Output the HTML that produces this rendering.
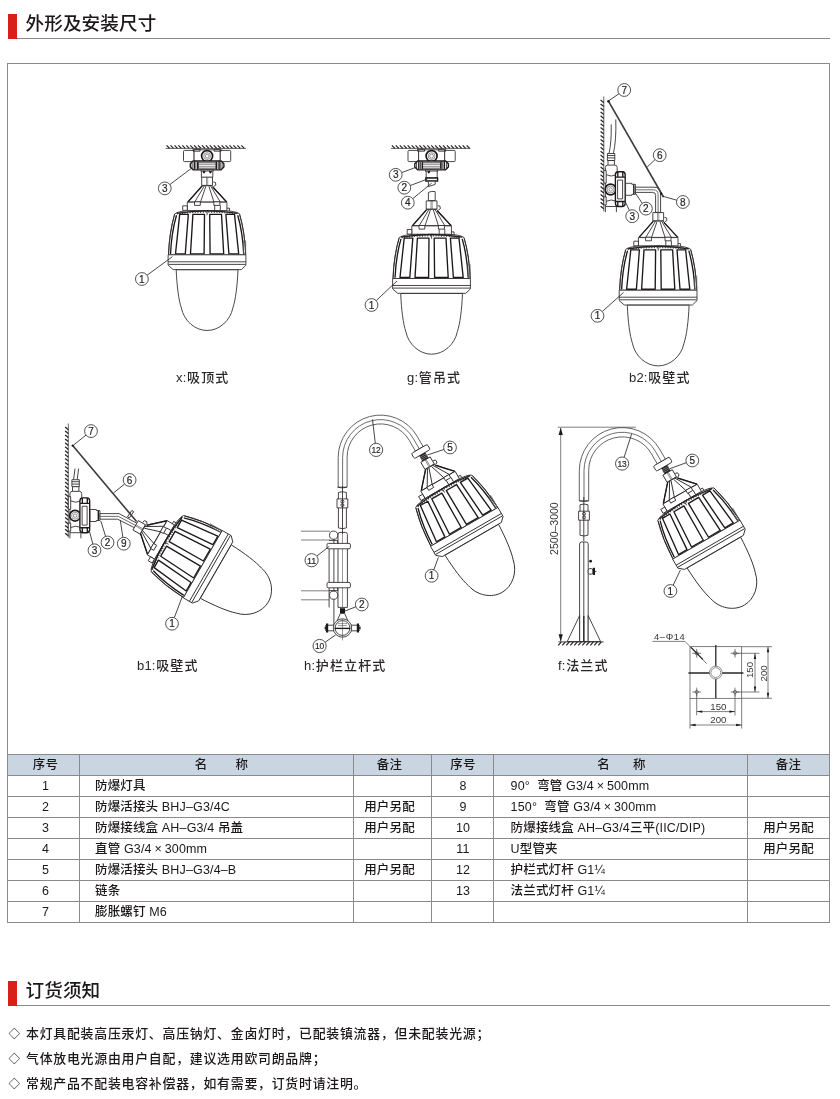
<!DOCTYPE html>
<html lang="zh-CN">
<head>
<meta charset="utf-8">
<title>外形及安装尺寸</title>
<style>
*{box-sizing:border-box;margin:0;padding:0}
html,body{width:840px;height:1099px;background:#fff;overflow:hidden}
body{position:relative;font-family:"Liberation Sans","Noto Sans CJK SC",sans-serif;color:#231f20}
.hd{position:absolute;left:8px;width:822px;height:25px;border-bottom:1px solid #8a8a8a}
.hd i{position:absolute;left:0;top:0;width:9px;height:25px;background:#d7201a}
.hd h2{position:absolute;left:17.5px;top:-3px;font-size:18.6px;font-weight:500;line-height:26px;letter-spacing:0.1px;color:#1c1819;white-space:nowrap}
#h1{top:14px}
#h2{top:981px}
.box{position:absolute;left:7px;top:63px;width:823px;height:692px;border:1px solid #8a8a8a;border-bottom:none}
.cap .la{letter-spacing:.2px;margin-right:.6px}
.cap{position:absolute;font-weight:500;font-size:13px;line-height:16px;white-space:nowrap;color:#2b2728;letter-spacing:1.1px}
table{position:absolute;left:7px;top:754px;width:822px;border-collapse:collapse;table-layout:fixed;font-size:12.5px;letter-spacing:.15px;font-weight:500;color:#1c1819}
td,th{border:1px solid #8a8a8a;height:21px;line-height:19px;padding:0;font-weight:500;white-space:nowrap;overflow:hidden;vertical-align:middle}
th{background:#c9d6e2;font-weight:500}
td.n,td.r{text-align:center}
tr>:nth-child(3){padding-right:6px}
tr>:nth-child(4){padding-left:1px}
tr>:nth-child(1){padding-left:4px}
td.t:nth-child(5){padding-left:16.6px}
td.t{padding-left:15px;text-align:left}
.x{padding:0 2.8px}
.notes{position:absolute;left:8px;top:1021px;font-size:12.9px;line-height:25px;letter-spacing:0.76px;color:#1c1819;font-weight:500;white-space:nowrap}
.notes b{display:inline-block;width:18px;font-weight:400;letter-spacing:0;font-size:11.6px;padding-left:.6px;vertical-align:top}
svg{position:absolute;left:0;top:0}
body>*{will-change:transform}
svg text{font-family:"Liberation Sans","Noto Sans CJK SC",sans-serif}

svg .l{fill:none;stroke:#2a2627;stroke-width:.85}
svg .k{fill:none;stroke:#1d191a;stroke-width:1.35;stroke-linejoin:round}
svg .kw{fill:#fff;stroke:#1d191a;stroke-width:1.35}
svg .t{fill:none;stroke:#444;stroke-width:.55}
svg .r{fill:none;stroke:#333;stroke-width:2;stroke-dasharray:1 1.6}
svg .g{fill:none;stroke:#666;stroke-width:.7}
svg .w{fill:#fff;stroke:#2a2627;stroke-width:.85;stroke-linejoin:round}
svg .h{fill:none;stroke:#2a2627;stroke-width:1.25}
svg .hl{fill:none;stroke:#555;stroke-width:.9}
svg .c{fill:#fff;stroke:#2a2627;stroke-width:.8}
svg .c2{fill:none;stroke:#3e3a3b;stroke-width:1.6}
svg .f{fill:#1d191a;stroke:none}
svg .d{fill:none;stroke:#4a4647;stroke-width:.7}
svg .tw{fill:#fff;stroke:#4a4647;stroke-width:.85;stroke-linejoin:round}
svg .tl{fill:none;stroke:#4a4647;stroke-width:.8}
svg .k2{fill:none;stroke:#2a2627;stroke-width:1.3}
svg .gw{fill:#fff;stroke:#666;stroke-width:.7}
svg .th{fill:none;stroke:#bbb;stroke-width:.5}
svg text{fill:#231f20;stroke:#231f20;stroke-width:.2}
svg text.dt{fill:#3a3637;stroke:none}
</style>
</head>
<body>
<div class="hd" id="h1"><i></i><h2>外形及安装尺寸</h2></div>
<div class="box"></div>
<svg width="840" height="1099" viewBox="0 0 840 1099">
<g id="d-x">
<path class="hl" d="M165.6,148.4 H246"/><path class="h" d="M166.6,145.4 l3.0,3.0 M170.5,145.4 l3.0,3.0 M174.5,145.4 l3.0,3.0 M178.4,145.4 l3.0,3.0 M182.3,145.4 l3.0,3.0 M186.3,145.4 l3.0,3.0 M190.2,145.4 l3.0,3.0 M194.1,145.4 l3.0,3.0 M198.0,145.4 l3.0,3.0 M202.0,145.4 l3.0,3.0 M205.9,145.4 l3.0,3.0 M209.8,145.4 l3.0,3.0 M213.8,145.4 l3.0,3.0 M217.7,145.4 l3.0,3.0 M221.6,145.4 l3.0,3.0 M225.6,145.4 l3.0,3.0 M229.5,145.4 l3.0,3.0 M233.4,145.4 l3.0,3.0 M237.3,145.4 l3.0,3.0 M241.3,145.4 l3.0,3.0"/>
<g transform="translate(207.1 148.4)">
<path class="w" d="M-22.6,2 h9.6 v11.2 h-9.6 a1,1 0 0 1 -1,-1 v-9.2 a1,1 0 0 1 1,-1 Z M13,2 h9.6 a1,1 0 0 1 1,1 v9.2 a1,1 0 0 1 -1,1 h-9.6 Z"/>
<path class="w" d="M-13,1.4 H13 V13.4 H-13 Z"/>
<path class="l" d="M-14,0.8 h7 v2 h-7 Z M7,0.8 h7 v2 h-7 Z"/>
<circle class="kw" cx="0" cy="7.7" r="5.5" style="stroke-width:1.7"/>
<circle class="g" cx="0" cy="7.7" r="3.4"/>
<circle class="g" cx="0" cy="7.7" r="1.9"/>
<path class="kw" d="M-16.8,15.4 L-14,12.6 H14 L16.8,15.4 V18.6 L14,21.4 H-14 L-16.8,18.6 Z"/>
<path class="w" d="M-9,14.4 H9 V19.8 H-9 Z"/>
<path class="t" d="M-9,16.2 H9 M-9,18 H9"/>
<path class="k" d="M-12.8,12.8 V21.2 M12.8,12.8 V21.2 M-9.4,13 V21 M9.4,13 V21"/>
<path class="l" d="M-15,14 V20 M15,14 V20 M-11.2,13 V21 M11.2,13 V21"/>
<path class="w" d="M-6,21.4 H6 V23 H-6 Z"/>
</g>
<path class="w" d="M201.4,171 H212.8 V177.4 H201.4 Z"/>
<path class="k" d="M203,171.2 l1,1.6 l1,-1.6 M209.4,171.2 l1,1.6 l1,-1.6"/>
<g transform="translate(207.1 210.2) rotate(0) scale(1.0)">
<path class="w" d="M-5.4,-33 H5.4 V-24.8 H-5.4 Z"/>
<path class="t" d="M-0.6,-33 V-25 M0.6,-33 V-25"/>
<path class="l" d="M6.2,-28.3 l2.2,0.6 l0.3,2.6 l-2,1.2"/>
<path class="w" d="M-4.8,-24.5 L-19.2,-8.2 H19.6 L5,-24.5 Z"/>
<path class="k" d="M-4.8,-24.5 L-19.2,-8.2 M5.6,-23.2 L19.6,-8.2"/>
<path class="l" d="M-2.6,-24.5 L-12.4,-8.2 M-1.2,-24 L-6.6,-8.2 M1.8,-24 L6.8,-8.2 M3.4,-24.5 L13.2,-8.2"/>
<path class="w" d="M-19.8,-8 H19.8 V0.5 H-19.8 Z"/>
<path class="w" d="M-12.6,-8.4 h5.8 v3.6 h-5.8 Z M6.8,-8.4 h6 v3.6 h-6 Z"/>
<path class="w" d="M-24.4,-4.4 h4.6 v4.6 h-4.6 Z"/>
<path class="l" d="M7.6,-4.8 v4.8 M13.2,-4.8 v4.8 M19.8,-2 h2.6 v3"/>
<path class="w" d="M-32.4,3.6 Q-28,0.6 -16,0.4 H16 Q28,0.6 32.4,3.6 Q37.6,22 38.6,44.6 H-38.6 Q-37.6,22 -32.4,3.6 Z"/>
<path class="k" d="M-30.5,3.2 Q-16,0.6 0,0.6 Q16,0.6 30.5,3.2"/>
<path class="r" d="M-30,3.4 Q-16,1.6 0,1.6 Q16,1.6 30,3.4"/>
<path class="k" d="M-27.4,4.2 L-31.6,43.6 H-21.8 L-18.8,4.2 Z"/>
<path class="k" d="M-14.2,4.2 L-16.6,43.6 H-3.0 L-2.6,4.2 Z"/>
<path class="k" d="M2.6,4.2 L3.0,43.6 H16.6 L14.4,4.2 Z"/>
<path class="k" d="M18.8,4.2 L21.8,43.6 H31.6 L27.4,4.2 Z"/>
<path class="k" d="M-30.6,5 Q-35.6,22 -36.6,43.8 M30.6,5 Q35.6,22 36.6,43.8"/>
<path class="l" d="M-32.6,4.4 Q-37.8,22 -38.6,44 M32.6,4.4 Q37.8,22 38.6,44"/>
<path class="l" d="M0,0.6 V5"/>
<path class="g" d="M36.4,30.6 h2.2 v12.6 h-2.2 Z"/>
<path class="w" d="M-39,44.6 H38.8 V55 L34.2,59.4 H-33.9 L-39,55 Z"/>
<path class="l" d="M-39,51.6 H38.8 M-38.6,54.2 H38.4"/>
<path class="w" d="M-30.9,59.6 C-30.2,76 -28.4,90 -25.8,97.6 C-23.2,110.6 -12,120.3 0,120.3 C12,120.3 23.2,110.6 25.8,97.6 C28.4,90 30.2,76 30.9,59.6 Z"/>
</g>
<path class="l" d="M147.1,275.2 L172.4,256.7"/>
<circle class="c" cx="141.9" cy="279" r="6.4"/><text x="141.9" y="282.6" text-anchor="middle" font-size="10.0">1</text>
<path class="l" d="M169.9,184.5 L191,168.6"/>
<circle class="c" cx="164.8" cy="188.4" r="6.4"/><text x="164.8" y="192.0" text-anchor="middle" font-size="10.0">3</text>
</g>
<g id="d-g">
<path class="hl" d="M390.9,148.4 H470.4"/><path class="h" d="M391.9,145.4 l3.0,3.0 M395.8,145.4 l3.0,3.0 M399.8,145.4 l3.0,3.0 M403.7,145.4 l3.0,3.0 M407.6,145.4 l3.0,3.0 M411.6,145.4 l3.0,3.0 M415.5,145.4 l3.0,3.0 M419.4,145.4 l3.0,3.0 M423.3,145.4 l3.0,3.0 M427.3,145.4 l3.0,3.0 M431.2,145.4 l3.0,3.0 M435.1,145.4 l3.0,3.0 M439.1,145.4 l3.0,3.0 M443.0,145.4 l3.0,3.0 M446.9,145.4 l3.0,3.0 M450.9,145.4 l3.0,3.0 M454.8,145.4 l3.0,3.0 M458.7,145.4 l3.0,3.0 M462.6,145.4 l3.0,3.0 M466.6,145.4 l3.0,3.0"/>
<g transform="translate(431.6 148.4)">
<path class="w" d="M-22.6,2 h9.6 v11.2 h-9.6 a1,1 0 0 1 -1,-1 v-9.2 a1,1 0 0 1 1,-1 Z M13,2 h9.6 a1,1 0 0 1 1,1 v9.2 a1,1 0 0 1 -1,1 h-9.6 Z"/>
<path class="w" d="M-13,1.4 H13 V13.4 H-13 Z"/>
<path class="l" d="M-14,0.8 h7 v2 h-7 Z M7,0.8 h7 v2 h-7 Z"/>
<circle class="kw" cx="0" cy="7.7" r="5.5" style="stroke-width:1.7"/>
<circle class="g" cx="0" cy="7.7" r="3.4"/>
<circle class="g" cx="0" cy="7.7" r="1.9"/>
<path class="kw" d="M-16.8,15.4 L-14,12.6 H14 L16.8,15.4 V18.6 L14,21.4 H-14 L-16.8,18.6 Z"/>
<path class="w" d="M-9,14.4 H9 V19.8 H-9 Z"/>
<path class="t" d="M-9,16.2 H9 M-9,18 H9"/>
<path class="k" d="M-12.8,12.8 V21.2 M12.8,12.8 V21.2 M-9.4,13 V21 M9.4,13 V21"/>
<path class="l" d="M-15,14 V20 M15,14 V20 M-11.2,13 V21 M11.2,13 V21"/>
<path class="w" d="M-6,21.4 H6 V23 H-6 Z"/>
</g>
<path class="w" d="M426.2,171 H437.2 V178 H426.2 Z"/>
<path class="k" d="M427.8,171.2 l1,1.6 l1,-1.6"/>
<path class="kw" d="M425.8,178 h11.8 v3 h-11.8 Z"/>
<path class="w" d="M428.4,181.2 V186.6 L435.2,184.4 V181.2 Z"/>
<path class="w" d="M428.4,200.6 V192.4 q3.4,-1.6 6.8,-0.8 V200.6 Z"/>
<g transform="translate(431.6 233.9) rotate(0) scale(1.0)">
<path class="w" d="M-5.4,-33 H5.4 V-24.8 H-5.4 Z"/>
<path class="t" d="M-0.6,-33 V-25 M0.6,-33 V-25"/>
<path class="l" d="M6.2,-28.3 l2.2,0.6 l0.3,2.6 l-2,1.2"/>
<path class="w" d="M-4.8,-24.5 L-19.2,-8.2 H19.6 L5,-24.5 Z"/>
<path class="k" d="M-4.8,-24.5 L-19.2,-8.2 M5.6,-23.2 L19.6,-8.2"/>
<path class="l" d="M-2.6,-24.5 L-12.4,-8.2 M-1.2,-24 L-6.6,-8.2 M1.8,-24 L6.8,-8.2 M3.4,-24.5 L13.2,-8.2"/>
<path class="w" d="M-19.8,-8 H19.8 V0.5 H-19.8 Z"/>
<path class="w" d="M-12.6,-8.4 h5.8 v3.6 h-5.8 Z M6.8,-8.4 h6 v3.6 h-6 Z"/>
<path class="w" d="M-24.4,-4.4 h4.6 v4.6 h-4.6 Z"/>
<path class="l" d="M7.6,-4.8 v4.8 M13.2,-4.8 v4.8 M19.8,-2 h2.6 v3"/>
<path class="w" d="M-32.4,3.6 Q-28,0.6 -16,0.4 H16 Q28,0.6 32.4,3.6 Q37.6,22 38.6,44.6 H-38.6 Q-37.6,22 -32.4,3.6 Z"/>
<path class="k" d="M-30.5,3.2 Q-16,0.6 0,0.6 Q16,0.6 30.5,3.2"/>
<path class="r" d="M-30,3.4 Q-16,1.6 0,1.6 Q16,1.6 30,3.4"/>
<path class="k" d="M-27.4,4.2 L-31.6,43.6 H-21.8 L-18.8,4.2 Z"/>
<path class="k" d="M-14.2,4.2 L-16.6,43.6 H-3.0 L-2.6,4.2 Z"/>
<path class="k" d="M2.6,4.2 L3.0,43.6 H16.6 L14.4,4.2 Z"/>
<path class="k" d="M18.8,4.2 L21.8,43.6 H31.6 L27.4,4.2 Z"/>
<path class="k" d="M-30.6,5 Q-35.6,22 -36.6,43.8 M30.6,5 Q35.6,22 36.6,43.8"/>
<path class="l" d="M-32.6,4.4 Q-37.8,22 -38.6,44 M32.6,4.4 Q37.8,22 38.6,44"/>
<path class="l" d="M0,0.6 V5"/>
<path class="g" d="M36.4,30.6 h2.2 v12.6 h-2.2 Z"/>
<path class="w" d="M-39,44.6 H38.8 V55 L34.2,59.4 H-33.9 L-39,55 Z"/>
<path class="l" d="M-39,51.6 H38.8 M-38.6,54.2 H38.4"/>
<path class="w" d="M-30.9,59.6 C-30.2,76 -28.4,90 -25.8,97.6 C-23.2,110.6 -12,120.3 0,120.3 C12,120.3 23.2,110.6 25.8,97.6 C28.4,90 30.2,76 30.9,59.6 Z"/>
</g>
<path class="l" d="M401.7,172.6 L416,167.3"/>
<circle class="c" cx="395.7" cy="174.8" r="6.4"/><text x="395.7" y="178.4" text-anchor="middle" font-size="10.0">3</text>
<path class="l" d="M410.3,185.5 L427.3,179.1"/>
<circle class="c" cx="404.3" cy="187.7" r="6.4"/><text x="404.3" y="191.29999999999998" text-anchor="middle" font-size="10.0">2</text>
<path class="l" d="M412.8,198.6 L431.6,183.2"/>
<circle class="c" cx="407.8" cy="202.7" r="6.4"/><text x="407.8" y="206.29999999999998" text-anchor="middle" font-size="10.0">4</text>
<path class="l" d="M376.2,300.6 L397,281"/>
<circle class="c" cx="371.5" cy="305" r="6.4"/><text x="371.5" y="308.6" text-anchor="middle" font-size="10.0">1</text>
</g>
<g id="d-b2">
<path class="hl" d="M603.8,96.5 V211.4"/><path class="h" d="M600.6,100.1 l3.2,2.6 M600.6,104.0 l3.2,2.6 M600.6,108.0 l3.2,2.6 M600.6,111.9 l3.2,2.6 M600.6,115.8 l3.2,2.6 M600.6,119.8 l3.2,2.6 M600.6,123.7 l3.2,2.6 M600.6,127.6 l3.2,2.6 M600.6,131.5 l3.2,2.6 M600.6,135.5 l3.2,2.6 M600.6,139.4 l3.2,2.6 M600.6,143.3 l3.2,2.6 M600.6,147.3 l3.2,2.6 M600.6,151.2 l3.2,2.6 M600.6,155.1 l3.2,2.6 M600.6,159.1 l3.2,2.6 M600.6,163.0 l3.2,2.6 M600.6,166.9 l3.2,2.6 M600.6,170.8 l3.2,2.6 M600.6,174.8 l3.2,2.6 M600.6,178.7 l3.2,2.6 M600.6,182.6 l3.2,2.6 M600.6,186.6 l3.2,2.6 M600.6,190.5 l3.2,2.6 M600.6,194.4 l3.2,2.6 M600.6,198.4 l3.2,2.6 M600.6,202.3 l3.2,2.6 M600.6,206.2 l3.2,2.6"/>
<path class="l" d="M611.2,124.4 Q611.6,142 609,153.6 M615.8,119.4 Q616.4,140 613.4,153.6"/>
<g transform="translate(603.8 189.5)">
<path class="w" d="M3.6,-36 h7.4 v7 h-7.4 Z"/>
<path class="l" d="M3.6,-34 h7.4 M3.6,-31.6 h7.4"/>
<path class="w" d="M4.2,-29 h6.4 v5 h-6.4 Z"/>
<path class="w" d="M1.6,-22 q0,-2.4 2.4,-2.4 h7 q2.4,0 2.4,2.4 V17 H1.6 Z"/>
<path class="l" d="M1.6,-15 q5.8,3 11.8,0 M1.6,12 q5.8,-3 11.8,0"/>
<path class="w" d="M0,-19 h2.4 v12.6 h-2.4 Z M0,7.4 h2.4 v8 h-2.4 Z"/>
<path class="l" d="M1.6,17 V22.6 M12.6,17 V22.6"/>
<circle class="kw" cx="6.8" cy="0" r="5.4" style="stroke-width:1.7"/>
<circle class="g" cx="6.8" cy="0" r="3.5"/>
<circle class="g" cx="6.8" cy="0" r="1.7"/>
<path class="kw" d="M11.6,-14.4 q0,-3.4 2.6,-3.4 h4.6 q2.6,0 2.6,3.4 V13.6 q0,3.4 -2.6,3.4 h-4.6 q-2.6,0 -2.6,-3.4 Z"/>
<path class="w" d="M13.8,-9.4 h5 v18.8 h-5 Z"/>
<path class="k" d="M11.8,-12.4 h9.4 M11.8,12 h9.4 M14,-17.6 v5 M19,-17.6 v5 M14,12 v5 M19,12 v5"/>
<path class="w" d="M21.8,-6.2 h6.2 v1 h3.6 v10 h-3.6 v1 h-6.2 Z"/>
<path class="k" d="M30,-5 v9.8"/>
</g>
<path class="w" d="M635.4,187.2 H654 Q660.6,187.2 660.6,194 V212.4 H655.6 V195.4 Q655.6,192.4 652.6,192.4 H635.4 Z"/>
<path class="tl" d="M635.4,189.8 H653.4 Q658.1,189.8 658.1,194.6 V212.4"/>
<g transform="translate(658.2 245.6) rotate(0) scale(1.0)">
<path class="w" d="M-5.4,-33 H5.4 V-24.8 H-5.4 Z"/>
<path class="t" d="M-0.6,-33 V-25 M0.6,-33 V-25"/>
<path class="l" d="M6.2,-28.3 l2.2,0.6 l0.3,2.6 l-2,1.2"/>
<path class="w" d="M-4.8,-24.5 L-19.2,-8.2 H19.6 L5,-24.5 Z"/>
<path class="k" d="M-4.8,-24.5 L-19.2,-8.2 M5.6,-23.2 L19.6,-8.2"/>
<path class="l" d="M-2.6,-24.5 L-12.4,-8.2 M-1.2,-24 L-6.6,-8.2 M1.8,-24 L6.8,-8.2 M3.4,-24.5 L13.2,-8.2"/>
<path class="w" d="M-19.8,-8 H19.8 V0.5 H-19.8 Z"/>
<path class="w" d="M-12.6,-8.4 h5.8 v3.6 h-5.8 Z M6.8,-8.4 h6 v3.6 h-6 Z"/>
<path class="w" d="M-24.4,-4.4 h4.6 v4.6 h-4.6 Z"/>
<path class="l" d="M7.6,-4.8 v4.8 M13.2,-4.8 v4.8 M19.8,-2 h2.6 v3"/>
<path class="w" d="M-32.4,3.6 Q-28,0.6 -16,0.4 H16 Q28,0.6 32.4,3.6 Q37.6,22 38.6,44.6 H-38.6 Q-37.6,22 -32.4,3.6 Z"/>
<path class="k" d="M-30.5,3.2 Q-16,0.6 0,0.6 Q16,0.6 30.5,3.2"/>
<path class="r" d="M-30,3.4 Q-16,1.6 0,1.6 Q16,1.6 30,3.4"/>
<path class="k" d="M-27.4,4.2 L-31.6,43.6 H-21.8 L-18.8,4.2 Z"/>
<path class="k" d="M-14.2,4.2 L-16.6,43.6 H-3.0 L-2.6,4.2 Z"/>
<path class="k" d="M2.6,4.2 L3.0,43.6 H16.6 L14.4,4.2 Z"/>
<path class="k" d="M18.8,4.2 L21.8,43.6 H31.6 L27.4,4.2 Z"/>
<path class="k" d="M-30.6,5 Q-35.6,22 -36.6,43.8 M30.6,5 Q35.6,22 36.6,43.8"/>
<path class="l" d="M-32.6,4.4 Q-37.8,22 -38.6,44 M32.6,4.4 Q37.8,22 38.6,44"/>
<path class="l" d="M0,0.6 V5"/>
<path class="g" d="M36.4,30.6 h2.2 v12.6 h-2.2 Z"/>
<path class="w" d="M-39,44.6 H38.8 V55 L34.2,59.4 H-33.9 L-39,55 Z"/>
<path class="l" d="M-39,51.6 H38.8 M-38.6,54.2 H38.4"/>
<path class="w" d="M-30.9,59.6 C-30.2,76 -28.4,90 -25.8,97.6 C-23.2,110.6 -12,120.3 0,120.3 C12,120.3 23.2,110.6 25.8,97.6 C28.4,90 30.2,76 30.9,59.6 Z"/>
</g>
<path class="c2" d="M608.6,101.4 L662.9,196"/>
<circle class="f" cx="608.4" cy="101.2" r="1.2"/><circle class="f" cx="661.2" cy="193.4" r="1.1"/><circle class="f" cx="663.2" cy="196.4" r="0.9"/>
<path class="l" d="M619.0,93.7 L609,100.6"/>
<circle class="c" cx="624.2" cy="90" r="6.4"/><text x="624.2" y="93.6" text-anchor="middle" font-size="10.0">7</text>
<path class="l" d="M655.0,159.6 L647.2,167"/>
<circle class="c" cx="659.7" cy="155.2" r="6.4"/><text x="659.7" y="158.79999999999998" text-anchor="middle" font-size="10.0">6</text>
<path class="l" d="M676.7,200.2 L663.4,196.4"/>
<circle class="c" cx="682.9" cy="202" r="6.4"/><text x="682.9" y="205.6" text-anchor="middle" font-size="10.0">8</text>
<path class="l" d="M642.3,203.3 L635,192.6"/>
<circle class="c" cx="645.9" cy="208.6" r="6.4"/><text x="645.9" y="212.2" text-anchor="middle" font-size="10.0">2</text>
<path class="l" d="M629.4,210.4 L625,201.2"/>
<circle class="c" cx="632.2" cy="216.2" r="6.4"/><text x="632.2" y="219.79999999999998" text-anchor="middle" font-size="10.0">3</text>
<path class="l" d="M602.3,311.5 L623.5,292.5"/>
<circle class="c" cx="597.5" cy="315.8" r="6.4"/><text x="597.5" y="319.40000000000003" text-anchor="middle" font-size="10.0">1</text>
</g>
<g id="d-b1">
<path class="hl" d="M68.3,423.5 V537.5"/><path class="h" d="M65.1,427.1 l3.2,2.6 M65.1,431.0 l3.2,2.6 M65.1,435.0 l3.2,2.6 M65.1,438.9 l3.2,2.6 M65.1,442.8 l3.2,2.6 M65.1,446.8 l3.2,2.6 M65.1,450.7 l3.2,2.6 M65.1,454.6 l3.2,2.6 M65.1,458.5 l3.2,2.6 M65.1,462.5 l3.2,2.6 M65.1,466.4 l3.2,2.6 M65.1,470.3 l3.2,2.6 M65.1,474.3 l3.2,2.6 M65.1,478.2 l3.2,2.6 M65.1,482.1 l3.2,2.6 M65.1,486.1 l3.2,2.6 M65.1,490.0 l3.2,2.6 M65.1,493.9 l3.2,2.6 M65.1,497.8 l3.2,2.6 M65.1,501.8 l3.2,2.6 M65.1,505.7 l3.2,2.6 M65.1,509.6 l3.2,2.6 M65.1,513.6 l3.2,2.6 M65.1,517.5 l3.2,2.6 M65.1,521.4 l3.2,2.6 M65.1,525.4 l3.2,2.6 M65.1,529.3 l3.2,2.6 M65.1,533.2 l3.2,2.6"/>
<path class="l" d="M75,468.6 L73.6,479.6 M78.6,468.6 L77.2,479.6"/>
<g transform="translate(68.3 515.7)">
<path class="w" d="M3.6,-36 h7.4 v7 h-7.4 Z"/>
<path class="l" d="M3.6,-34 h7.4 M3.6,-31.6 h7.4"/>
<path class="w" d="M4.2,-29 h6.4 v5 h-6.4 Z"/>
<path class="w" d="M1.6,-22 q0,-2.4 2.4,-2.4 h7 q2.4,0 2.4,2.4 V17 H1.6 Z"/>
<path class="l" d="M1.6,-15 q5.8,3 11.8,0 M1.6,12 q5.8,-3 11.8,0"/>
<path class="w" d="M0,-19 h2.4 v12.6 h-2.4 Z M0,7.4 h2.4 v8 h-2.4 Z"/>
<path class="l" d="M1.6,17 V22.6 M12.6,17 V22.6"/>
<circle class="kw" cx="6.8" cy="0" r="5.4" style="stroke-width:1.7"/>
<circle class="g" cx="6.8" cy="0" r="3.5"/>
<circle class="g" cx="6.8" cy="0" r="1.7"/>
<path class="kw" d="M11.6,-14.4 q0,-3.4 2.6,-3.4 h4.6 q2.6,0 2.6,3.4 V13.6 q0,3.4 -2.6,3.4 h-4.6 q-2.6,0 -2.6,-3.4 Z"/>
<path class="w" d="M13.8,-9.4 h5 v18.8 h-5 Z"/>
<path class="k" d="M11.8,-12.4 h9.4 M11.8,12 h9.4 M14,-17.6 v5 M19,-17.6 v5 M14,12 v5 M19,12 v5"/>
<path class="w" d="M21.8,-6.2 h6.2 v1 h3.6 v10 h-3.6 v1 h-6.2 Z"/>
<path class="k" d="M30,-5 v9.8"/>
</g>
<path class="w" d="M100,513.6 H119 L138.6,524.2 L136.2,528.6 L117.6,519.2 H100 Z"/>
<path class="tl" d="M100,516.4 H118.4 L137.4,526.4"/>
<path class="w" transform="translate(130.6 514.2) rotate(35)" d="M-1.1,-3.8 h2.2 v7.6 h-2.2 Z"/>
<g transform="translate(164.2 541.8) rotate(-60) scale(1.0)">
<path class="w" d="M-5.4,-33 H5.4 V-24.8 H-5.4 Z"/>
<path class="t" d="M-0.6,-33 V-25 M0.6,-33 V-25"/>
<path class="l" d="M6.2,-28.3 l2.2,0.6 l0.3,2.6 l-2,1.2"/>
<path class="w" d="M-4.8,-24.5 L-19.2,-8.2 H19.6 L5,-24.5 Z"/>
<path class="k" d="M-4.8,-24.5 L-19.2,-8.2 M5.6,-23.2 L19.6,-8.2"/>
<path class="l" d="M-2.6,-24.5 L-12.4,-8.2 M-1.2,-24 L-6.6,-8.2 M1.8,-24 L6.8,-8.2 M3.4,-24.5 L13.2,-8.2"/>
<path class="w" d="M-19.8,-8 H19.8 V0.5 H-19.8 Z"/>
<path class="w" d="M-12.6,-8.4 h5.8 v3.6 h-5.8 Z M6.8,-8.4 h6 v3.6 h-6 Z"/>
<path class="w" d="M-24.4,-4.4 h4.6 v4.6 h-4.6 Z"/>
<path class="l" d="M7.6,-4.8 v4.8 M13.2,-4.8 v4.8 M19.8,-2 h2.6 v3"/>
<path class="w" d="M-32.4,3.6 Q-28,0.6 -16,0.4 H16 Q28,0.6 32.4,3.6 Q37.6,22 38.6,44.6 H-38.6 Q-37.6,22 -32.4,3.6 Z"/>
<path class="k" d="M-30.5,3.2 Q-16,0.6 0,0.6 Q16,0.6 30.5,3.2"/>
<path class="r" d="M-30,3.4 Q-16,1.6 0,1.6 Q16,1.6 30,3.4"/>
<path class="k" d="M-27.4,4.2 L-31.6,43.6 H-21.8 L-18.8,4.2 Z"/>
<path class="k" d="M-14.2,4.2 L-16.6,43.6 H-3.0 L-2.6,4.2 Z"/>
<path class="k" d="M2.6,4.2 L3.0,43.6 H16.6 L14.4,4.2 Z"/>
<path class="k" d="M18.8,4.2 L21.8,43.6 H31.6 L27.4,4.2 Z"/>
<path class="k" d="M-30.6,5 Q-35.6,22 -36.6,43.8 M30.6,5 Q35.6,22 36.6,43.8"/>
<path class="l" d="M-32.6,4.4 Q-37.8,22 -38.6,44 M32.6,4.4 Q37.8,22 38.6,44"/>
<path class="l" d="M0,0.6 V5"/>
<path class="g" d="M36.4,30.6 h2.2 v12.6 h-2.2 Z"/>
<path class="w" d="M-39,44.6 H38.8 V55 L34.2,59.4 H-33.9 L-39,55 Z"/>
<path class="l" d="M-39,51.6 H38.8 M-38.6,54.2 H38.4"/>
<path class="w" d="M-30.9,59.6 C-30.2,76 -28.4,90 -25.8,97.6 C-23.2,110.6 -12,120.3 0,120.3 C12,120.3 23.2,110.6 25.8,97.6 C28.4,90 30.2,76 30.9,59.6 Z"/>
</g>
<path class="c2" d="M72.9,445.7 L136.6,521.6"/>
<circle class="f" cx="72.8" cy="445.6" r="1.2"/>
<path class="l" d="M86.0,435.1 L73.6,445"/>
<circle class="c" cx="91" cy="431.1" r="6.4"/><text x="91" y="434.70000000000005" text-anchor="middle" font-size="10.0">7</text>
<path class="l" d="M124.6,484.0 L113.6,492.9"/>
<circle class="c" cx="129.6" cy="480" r="6.4"/><text x="129.6" y="483.6" text-anchor="middle" font-size="10.0">6</text>
<path class="l" d="M92.9,544.1 L89.2,530.4"/>
<circle class="c" cx="94.5" cy="550.3" r="6.4"/><text x="94.5" y="553.9" text-anchor="middle" font-size="10.0">3</text>
<path class="l" d="M105.6,536.4 L100.8,521"/>
<circle class="c" cx="107.5" cy="542.5" r="6.4"/><text x="107.5" y="546.1" text-anchor="middle" font-size="10.0">2</text>
<path class="l" d="M122.9,537.4 L120.3,520.2"/>
<circle class="c" cx="123.8" cy="543.7" r="6.4"/><text x="123.8" y="547.3000000000001" text-anchor="middle" font-size="10.0">9</text>
<path class="l" d="M174.3,617.7 L182.5,596"/>
<circle class="c" cx="172" cy="623.7" r="6.4"/><text x="172" y="627.3000000000001" text-anchor="middle" font-size="10.0">1</text>
</g>
<g id="d-h">
<path class="tw" d="M338.2,487.2 V457.3 A42.3,42.3 0 0 1 417.1,436.2 L423.2,446.7 L415.4,451.1 L409.4,440.6 A33.4,33.4 0 0 0 347.1,457.3 V487.2 Z"/><path class="tl" d="M342.6,487.2 V457.3 A37.9,37.9 0 0 1 413.2,438.4 L419.3,448.9"/>
<path class="l" d="M337.4,487.2 q4.7,1.4 9.5,0"/>
<path class="w" d="M338.4,492.5 q4,-1.6 8,0 V527.9 q-4,1.6 -8,0 Z"/><rect class="w" x="337.0" y="498.90000000000003" width="10.8" height="9"/><circle class="l" cx="342.4" cy="501.5" r="1.5"/><circle class="l" cx="342.4" cy="505.1" r="1.5"/>
<path class="w" d="M338,607.4 V534.4 q0,-2 2,-2 h5.4 q2,0 2,2 V607.4 Z"/>
<path class="l" d="M342.5,486 V534"/><path class="t" d="M342.5,534 V607"/>
<path class="d" d="M301,531.2 H330 M301,540 H330 M301,590.8 H329 M301,599.8 H329"/>
<path class="l" d="M329.1,549 V582.4 M329.1,588 V607.4 M333.9,538 V626"/>
<circle class="w" cx="333.6" cy="535.2" r="4.1"/>
<circle class="w" cx="333.6" cy="595.2" r="4.1"/>
<rect class="w" x="327" y="543.4" width="23.4" height="5.4" rx="1.4"/>
<rect class="w" x="327" y="582.4" width="23.4" height="5.4" rx="1.4"/>
<path class="l" d="M329,540.4 h8.6 v3 M329,590.6 h8.6 v-2.8"/>
<path class="f" d="M340,608.2 h5 v5 h-5 Z"/>
<path class="w" d="M340.4,613.4 L337.2,620.6 H347.8 L344.6,613.4 Z"/>
<rect class="w" x="325.4" y="625.2" width="34.4" height="5.6" rx="1"/>
<path class="f" d="M326,623.6 h2.2 v8.8 h-2.2 Z M356.8,623.6 h2.2 v8.8 h-2.2 Z"/>
<path class="k" d="M324.6,628 h3 M357.6,628 h3"/>
<circle class="w" cx="342.5" cy="628" r="9.2"/>
<circle class="l" cx="342.5" cy="628" r="7.4"/>
<path class="k" d="M334.6,628.4 H350.4"/>
<path class="t" d="M338,623.6 h9 M338,625.6 h9 M342.5,619 V640.4"/>
<g transform="translate(442.0 488.2) rotate(-30)"><path class="f" d="M-3.5,-39.8 H3.5 V-32.6 H-3.5 Z"/><path class="th" d="M-3.5,-37.8 H3.5 M-3.5,-36.199999999999996 H3.5 M-3.5,-34.6 H3.5"/><rect class="w" x="-9.2" y="-45.4" width="18.4" height="6" rx="1.6"/></g>
<g transform="translate(442.0 488.2) rotate(-30) scale(1.0)">
<path class="w" d="M-5.4,-33 H5.4 V-24.8 H-5.4 Z"/>
<path class="t" d="M-0.6,-33 V-25 M0.6,-33 V-25"/>
<path class="l" d="M6.2,-28.3 l2.2,0.6 l0.3,2.6 l-2,1.2"/>
<path class="w" d="M-4.8,-24.5 L-19.2,-8.2 H19.6 L5,-24.5 Z"/>
<path class="k" d="M-4.8,-24.5 L-19.2,-8.2 M5.6,-23.2 L19.6,-8.2"/>
<path class="l" d="M-2.6,-24.5 L-12.4,-8.2 M-1.2,-24 L-6.6,-8.2 M1.8,-24 L6.8,-8.2 M3.4,-24.5 L13.2,-8.2"/>
<path class="w" d="M-19.8,-8 H19.8 V0.5 H-19.8 Z"/>
<path class="w" d="M-12.6,-8.4 h5.8 v3.6 h-5.8 Z M6.8,-8.4 h6 v3.6 h-6 Z"/>
<path class="w" d="M-24.4,-4.4 h4.6 v4.6 h-4.6 Z"/>
<path class="l" d="M7.6,-4.8 v4.8 M13.2,-4.8 v4.8 M19.8,-2 h2.6 v3"/>
<path class="w" d="M-32.4,3.6 Q-28,0.6 -16,0.4 H16 Q28,0.6 32.4,3.6 Q37.6,22 38.6,44.6 H-38.6 Q-37.6,22 -32.4,3.6 Z"/>
<path class="k" d="M-30.5,3.2 Q-16,0.6 0,0.6 Q16,0.6 30.5,3.2"/>
<path class="r" d="M-30,3.4 Q-16,1.6 0,1.6 Q16,1.6 30,3.4"/>
<path class="k" d="M-27.4,4.2 L-31.6,43.6 H-21.8 L-18.8,4.2 Z"/>
<path class="k" d="M-14.2,4.2 L-16.6,43.6 H-3.0 L-2.6,4.2 Z"/>
<path class="k" d="M2.6,4.2 L3.0,43.6 H16.6 L14.4,4.2 Z"/>
<path class="k" d="M18.8,4.2 L21.8,43.6 H31.6 L27.4,4.2 Z"/>
<path class="k" d="M-30.6,5 Q-35.6,22 -36.6,43.8 M30.6,5 Q35.6,22 36.6,43.8"/>
<path class="l" d="M-32.6,4.4 Q-37.8,22 -38.6,44 M32.6,4.4 Q37.8,22 38.6,44"/>
<path class="l" d="M0,0.6 V5"/>
<path class="g" d="M36.4,30.6 h2.2 v12.6 h-2.2 Z"/>
<path class="w" d="M-39,44.6 H38.8 V55 L34.2,59.4 H-33.9 L-39,55 Z"/>
<path class="l" d="M-39,51.6 H38.8 M-38.6,54.2 H38.4"/>
<path class="w" d="M-30.9,59.6 C-30.2,76 -28.4,90 -25.8,97.6 C-23.2,110.6 -12,120.3 0,120.3 C12,120.3 23.2,110.6 25.8,97.6 C28.4,90 30.2,76 30.9,59.6 Z"/>
</g>
<path class="l" d="M375.3,443.3 L372.5,419.4"/>
<circle class="c" cx="376.1" cy="449.9" r="6.6"/><text x="376.1" y="453.2" text-anchor="middle" font-size="9.8" textLength="9.3" lengthAdjust="spacingAndGlyphs">12</text>
<path class="l" d="M443.9,449.5 L427.4,455"/>
<circle class="c" cx="450" cy="447.5" r="6.4"/><text x="450" y="451.1" text-anchor="middle" font-size="10.0">5</text>
<path class="l" d="M316.8,556.1 L329.2,546.4"/>
<circle class="c" cx="311.6" cy="560.2" r="6.6"/><text x="311.6" y="563.5" text-anchor="middle" font-size="9.8" textLength="9.3" lengthAdjust="spacingAndGlyphs">11</text>
<path class="l" d="M355.8,606.8 L345,611"/>
<circle class="c" cx="361.8" cy="604.5" r="6.4"/><text x="361.8" y="608.1" text-anchor="middle" font-size="10.0">2</text>
<path class="l" d="M325.0,642.3 L335.6,635"/>
<circle class="c" cx="319.6" cy="646" r="6.6"/><text x="319.6" y="649.3" text-anchor="middle" font-size="9.8" textLength="9.3" lengthAdjust="spacingAndGlyphs">10</text>
<path class="l" d="M433.8,569.8 L438.4,557.4"/>
<circle class="c" cx="431.6" cy="575.8" r="6.4"/><text x="431.6" y="579.4" text-anchor="middle" font-size="10.0">1</text>
</g>
<g id="d-f">
<path class="tw" d="M579.3,500.8 V470.5 A43.0,43.0 0 0 1 659.5,449.0 L665.5,459.3 L657.3,464.0 L651.4,453.7 A33.6,33.6 0 0 0 588.7,470.5 V500.8 Z"/><path class="tl" d="M584.0,500.8 V470.5 A38.3,38.3 0 0 1 655.4,451.3 L661.4,461.7"/>
<path class="l" d="M579.3,500.8 q4.7,1.4 9.4,0"/>
<path class="w" d="M580,504.8 q4,-1.6 8,0 V535.2 q-4,1.6 -8,0 Z"/><rect class="w" x="578.6" y="511.20000000000005" width="10.8" height="9"/><circle class="l" cx="584" cy="513.8000000000001" r="1.5"/><circle class="l" cx="584" cy="517.4" r="1.5"/>
<path class="l" d="M583.8,497 V541"/>
<path class="w" d="M579.6,641.6 V544 q0,-2 2,-2 h4.6 q2,0 2,2 V641.6 Z"/>
<path class="l" d="M583.8,542 V641.6"/><path class="k2" d="M583.8,616 V641.6"/>
<path class="w" d="M579.6,615.6 L567.2,641.6 H579.6 Z M588.2,615.6 L600.6,641.6 H588.2 Z"/>
<path class="l" d="M558.4,641.9 H603.6"/><path class="h" d="M561.4,641.9 l-3.1,3.4 M565.4,641.9 l-3.1,3.4 M569.4,641.9 l-3.1,3.4 M573.4,641.9 l-3.1,3.4 M577.4,641.9 l-3.1,3.4 M581.4,641.9 l-3.1,3.4 M585.4,641.9 l-3.1,3.4 M589.4,641.9 l-3.1,3.4 M593.4,641.9 l-3.1,3.4 M597.4,641.9 l-3.1,3.4 M601.4,641.9 l-3.1,3.4"/>
<circle class="f" cx="590.6" cy="561.2" r="1.4"/>
<rect class="w" x="588.2" y="568.6" width="4.6" height="5.6" rx="1.6"/><path class="f" d="M592.8,567.8 h2.2 v7.2 h-2.2 Z"/><path class="l" d="M595,571.4 h1.4"/>
<path class="d" d="M557.8,427.2 H636 M560.7,428 V641.6"/>
<path class="f" d="M560.7,427.4 L562.8,435.0 L558.6,435.0 Z"/>
<path class="f" d="M560.7,641.8 L558.6,634.2 L562.8,634.2 Z"/>
<text class="dt" transform="translate(558.2 528.6) rotate(-90)" text-anchor="middle" font-size="10.4" textLength="52.6" lengthAdjust="spacingAndGlyphs">2500–3000</text>
<g transform="translate(684.1 501.0) rotate(-30)"><path class="f" d="M-3.5,-40.0 H3.5 V-32.6 H-3.5 Z"/><path class="th" d="M-3.5,-38.0 H3.5 M-3.5,-36.4 H3.5 M-3.5,-34.800000000000004 H3.5"/><rect class="w" x="-9.2" y="-45.6" width="18.4" height="6" rx="1.6"/></g>
<g transform="translate(684.1 501.0) rotate(-30) scale(1.0)">
<path class="w" d="M-5.4,-33 H5.4 V-24.8 H-5.4 Z"/>
<path class="t" d="M-0.6,-33 V-25 M0.6,-33 V-25"/>
<path class="l" d="M6.2,-28.3 l2.2,0.6 l0.3,2.6 l-2,1.2"/>
<path class="w" d="M-4.8,-24.5 L-19.2,-8.2 H19.6 L5,-24.5 Z"/>
<path class="k" d="M-4.8,-24.5 L-19.2,-8.2 M5.6,-23.2 L19.6,-8.2"/>
<path class="l" d="M-2.6,-24.5 L-12.4,-8.2 M-1.2,-24 L-6.6,-8.2 M1.8,-24 L6.8,-8.2 M3.4,-24.5 L13.2,-8.2"/>
<path class="w" d="M-19.8,-8 H19.8 V0.5 H-19.8 Z"/>
<path class="w" d="M-12.6,-8.4 h5.8 v3.6 h-5.8 Z M6.8,-8.4 h6 v3.6 h-6 Z"/>
<path class="w" d="M-24.4,-4.4 h4.6 v4.6 h-4.6 Z"/>
<path class="l" d="M7.6,-4.8 v4.8 M13.2,-4.8 v4.8 M19.8,-2 h2.6 v3"/>
<path class="w" d="M-32.4,3.6 Q-28,0.6 -16,0.4 H16 Q28,0.6 32.4,3.6 Q37.6,22 38.6,44.6 H-38.6 Q-37.6,22 -32.4,3.6 Z"/>
<path class="k" d="M-30.5,3.2 Q-16,0.6 0,0.6 Q16,0.6 30.5,3.2"/>
<path class="r" d="M-30,3.4 Q-16,1.6 0,1.6 Q16,1.6 30,3.4"/>
<path class="k" d="M-27.4,4.2 L-31.6,43.6 H-21.8 L-18.8,4.2 Z"/>
<path class="k" d="M-14.2,4.2 L-16.6,43.6 H-3.0 L-2.6,4.2 Z"/>
<path class="k" d="M2.6,4.2 L3.0,43.6 H16.6 L14.4,4.2 Z"/>
<path class="k" d="M18.8,4.2 L21.8,43.6 H31.6 L27.4,4.2 Z"/>
<path class="k" d="M-30.6,5 Q-35.6,22 -36.6,43.8 M30.6,5 Q35.6,22 36.6,43.8"/>
<path class="l" d="M-32.6,4.4 Q-37.8,22 -38.6,44 M32.6,4.4 Q37.8,22 38.6,44"/>
<path class="l" d="M0,0.6 V5"/>
<path class="g" d="M36.4,30.6 h2.2 v12.6 h-2.2 Z"/>
<path class="w" d="M-39,44.6 H38.8 V55 L34.2,59.4 H-33.9 L-39,55 Z"/>
<path class="l" d="M-39,51.6 H38.8 M-38.6,54.2 H38.4"/>
<path class="w" d="M-30.9,59.6 C-30.2,76 -28.4,90 -25.8,97.6 C-23.2,110.6 -12,120.3 0,120.3 C12,120.3 23.2,110.6 25.8,97.6 C28.4,90 30.2,76 30.9,59.6 Z"/>
</g>
<path class="l" d="M624.1,457.3 L631.6,434"/>
<circle class="c" cx="622.1" cy="463.6" r="6.6"/><text x="622.1" y="466.90000000000003" text-anchor="middle" font-size="9.8" textLength="9.3" lengthAdjust="spacingAndGlyphs">13</text>
<path class="l" d="M686.3,462.7 L670,468.6"/>
<circle class="c" cx="692.3" cy="460.5" r="6.4"/><text x="692.3" y="464.1" text-anchor="middle" font-size="10.0">5</text>
<path class="l" d="M673.2,585.2 L680.4,570"/>
<circle class="c" cx="670.4" cy="591" r="6.4"/><text x="670.4" y="594.6" text-anchor="middle" font-size="10.0">1</text>
</g>
<g id="d-fl">
<rect class="d" x="690" y="646.7" width="51.7" height="51.6"/>
<path class="k2" d="M688.4,673 H743.4 M715.8,645 V698.3"/>
<circle class="gw" cx="715.8" cy="672.6" r="6.4"/><circle class="gw" cx="715.8" cy="672.6" r="4.9"/>
<circle class="d" cx="696.7" cy="653.3" r="1.6"/><path class="d" d="M692.3000000000001,653.3 h8.8 M696.7,648.9 v8.8"/>
<circle class="d" cx="735" cy="653.3" r="1.6"/><path class="d" d="M730.6,653.3 h8.8 M735,648.9 v8.8"/>
<circle class="d" cx="696.7" cy="692" r="1.6"/><path class="d" d="M692.3000000000001,692 h8.8 M696.7,687.6 v8.8"/>
<circle class="d" cx="735" cy="692" r="1.6"/><path class="d" d="M730.6,692 h8.8 M735,687.6 v8.8"/>
<path class="d" d="M741.7,646.7 H772 M741.7,698.3 H772 M737,653.3 H759.4 M737,692 H759.4 M755,653.3 V692 M768,646.7 V698.3"/>
<path class="d" d="M690,698.3 V728.6 M741.7,698.3 V728.6 M696.7,694 V715.4 M735,694 V715.4 M696.7,711.6 H735 M690,725 H741.7"/>
<path class="f" d="M755.0,653.3 L756.2,658.9 L753.8,658.9 Z"/>
<path class="f" d="M755.0,692.0 L753.8,686.4 L756.2,686.4 Z"/>
<path class="f" d="M768.0,646.7 L769.2,652.3 L766.8,652.3 Z"/>
<path class="f" d="M768.0,698.3 L766.8,692.7 L769.2,692.7 Z"/>
<path class="f" d="M696.7,711.6 L702.3,710.4 L702.3,712.8 Z"/>
<path class="f" d="M735.0,711.6 L729.4,712.8 L729.4,710.4 Z"/>
<path class="f" d="M690.0,725.0 L695.6,723.8 L695.6,726.2 Z"/>
<path class="f" d="M741.7,725.0 L736.1,726.2 L736.1,723.8 Z"/>
<text class="dt" x="718.4" y="709.6" text-anchor="middle" font-size="9.7">150</text>
<text class="dt" x="718.4" y="723.2" text-anchor="middle" font-size="9.7">200</text>
<text class="dt" transform="translate(753.4 670) rotate(-90)" text-anchor="middle" font-size="9.7">150</text>
<text class="dt" transform="translate(766.6 673.4) rotate(-90)" text-anchor="middle" font-size="9.7">200</text>
<text class="dt" x="654" y="639.8" font-size="9.4" textLength="30.8" lengthAdjust="spacing">4–Φ14</text>
<path class="d" d="M652.4,641.4 H685 L706.8,663.8"/>
<path class="k2" d="M691,647.4 L703,659.6"/>
</g>
</svg>
<div class="cap" style="left:176px;top:370px"><span class="la">x:</span>吸顶式</div>
<div class="cap" style="left:407px;top:370px"><span class="la">g:</span>管吊式</div>
<div class="cap" style="left:629px;top:370px"><span class="la">b2:</span>吸壁式</div>
<div class="cap" style="left:137px;top:657.5px"><span class="la">b1:</span>吸壁式</div>
<div class="cap" style="left:304px;top:657.5px"><span class="la">h:</span>护栏立杆式</div>
<div class="cap" style="left:558px;top:657.5px"><span class="la">f:</span>法兰式</div>
<table>
<colgroup><col style="width:72px"><col style="width:274px"><col style="width:78px"><col style="width:62px"><col style="width:254px"><col style="width:82px"></colgroup>
<tr><th>序号</th><th style="padding-left:10px">名<span style="display:inline-block;width:28px"></span>称</th><th>备注</th><th>序号</th><th style="padding-left:2px">名<span style="display:inline-block;width:23px"></span>称</th><th>备注</th></tr>
<tr><td class="n">1</td><td class="t">防爆灯具</td><td class="r"></td><td class="n">8</td><td class="t">90°&nbsp; 弯管 G3/4<span class="x">×</span>500mm</td><td class="r"></td></tr>
<tr><td class="n">2</td><td class="t">防爆活接头 BHJ–G3/4C</td><td class="r">用户另配</td><td class="n">9</td><td class="t">150°&nbsp; 弯管 G3/4<span class="x">×</span>300mm</td><td class="r"></td></tr>
<tr><td class="n">3</td><td class="t">防爆接线盒 AH–G3/4 吊盖</td><td class="r">用户另配</td><td class="n">10</td><td class="t">防爆接线盒 AH–G3/4三平(IIC/DIP)</td><td class="r">用户另配</td></tr>
<tr><td class="n">4</td><td class="t">直管 G3/4<span class="x">×</span>300mm</td><td class="r"></td><td class="n">11</td><td class="t">U型管夹</td><td class="r">用户另配</td></tr>
<tr><td class="n">5</td><td class="t">防爆活接头 BHJ–G3/4–B</td><td class="r">用户另配</td><td class="n">12</td><td class="t">护栏式灯杆 G1¼</td><td class="r"></td></tr>
<tr><td class="n">6</td><td class="t">链条</td><td class="r"></td><td class="n">13</td><td class="t">法兰式灯杆 G1¼</td><td class="r"></td></tr>
<tr><td class="n">7</td><td class="t">膨胀螺钉 M6</td><td class="r"></td><td class="n"></td><td class="t"></td><td class="r"></td></tr>
</table>
<div class="hd" id="h2"><i></i><h2>订货须知</h2></div>
<div class="notes">
<p><b>◇</b>本灯具配装高压汞灯、高压钠灯、金卤灯时，已配装镇流器，但未配装光源；</p>
<p><b>◇</b>气体放电光源由用户自配，建议选用欧司朗品牌；</p>
<p><b>◇</b>常规产品不配装电容补偿器，如有需要，订货时请注明。</p>
</div>
</body>
</html>
